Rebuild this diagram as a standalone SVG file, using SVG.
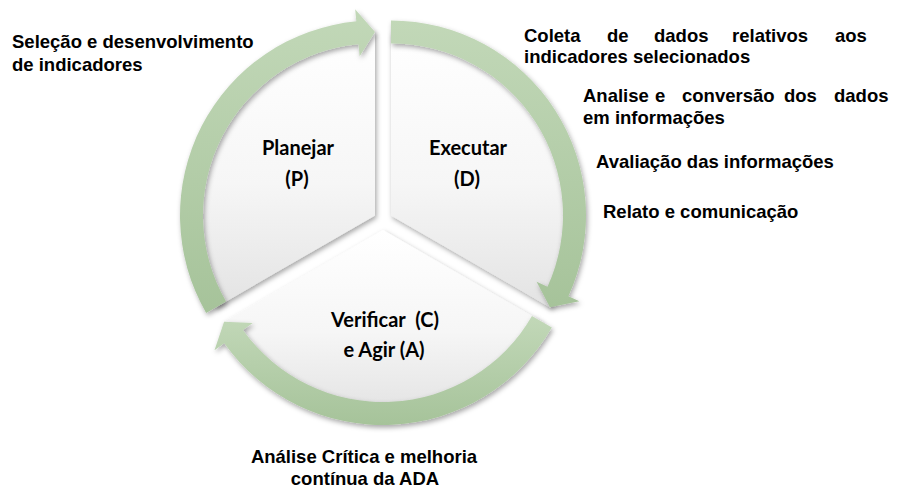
<svg xmlns="http://www.w3.org/2000/svg" width="904" height="502" viewBox="0 0 904 502">
  <defs>
    <linearGradient id="sectorFill" x1="0" y1="0" x2="0" y2="1">
      <stop offset="0" stop-color="#ffffff"/>
      <stop offset="0.55" stop-color="#f6f6f6"/>
      <stop offset="1" stop-color="#e3e3e3"/>
    </linearGradient>
    <linearGradient id="arrowFill" x1="0" y1="0" x2="0" y2="1">
      <stop offset="0" stop-color="#c2d8b8"/>
      <stop offset="1" stop-color="#a6c39a"/>
    </linearGradient>
    <filter id="shadow" x="-10%" y="-10%" width="125%" height="125%">
      <feDropShadow dx="1.5" dy="2.5" stdDeviation="2.5" flood-color="#000" flood-opacity="0.35"/>
    </filter>
    <style>
      .sector { fill: url(#sectorFill); filter: url(#shadow); }
      .arrow { fill: url(#arrowFill); filter: url(#shadow); }
      .inner { font-family: Lato, "Open Sans", sans-serif; font-weight: bold; font-size: 20px; fill: #000; text-anchor: middle; }
      .outer { font-family: "Liberation Sans", Arial, sans-serif; font-weight: bold; font-size: 18.5px; fill: #000; }
    </style>
  </defs>
  <rect width="904" height="502" fill="#ffffff"/>

  <g id="node-planejar">
    <path class="sector" d="M375,215.4 L215.65,307.4 A184,184 0 0 1 375,31.4 Z"/>
    <text class="inner" x="298" y="155">Planejar</text>
    <text class="inner" x="297" y="186">(P)</text>
  </g>

  <g id="node-executar">
    <path class="sector" d="M391,215.4 L391,31.4 A184,184 0 0 1 550.35,307.4 Z"/>
    <text class="inner" x="468" y="155">Executar</text>
    <text class="inner" x="467" y="186">(D)</text>
  </g>

  <g id="node-verificar">
    <path class="sector" d="M383,230 L542.35,322 A184,184 0 0 1 223.65,322 Z"/>
    <text class="inner" x="385" y="327">Verificar&#160; (C)</text>
    <text class="inner" x="384" y="357">e Agir (A)</text>
  </g>

  <g id="connectors">
    <path class="arrow" d="M206.13,312.9 A195,195 0 0 1 356.31,21.3 L355.16,9.35 L375,31.9 L359.66,56.14 L358.51,44.19 A172,172 0 0 0 226.04,301.4 Z"/>
    <path class="arrow" d="M391,20.4 A195,195 0 0 1 568.44,296.26 L579.36,301.24 L549.92,307.15 L536.59,281.75 L547.51,286.73 A172,172 0 0 0 391,43.4 Z"/>
    <path class="arrow" d="M551.87,327.5 A195,195 0 0 1 224.25,343.24 L214.48,350.2 L224.08,321.75 L252.74,322.91 L242.97,329.88 A172,172 0 0 0 531.96,316 Z"/>
  </g>

  <g id="annotations">
    <text class="outer" x="12" y="48">Seleção e desenvolvimento</text>
    <text class="outer" x="12" y="71">de indicadores</text>

    <text class="outer" y="42"><tspan x="524">Coleta</tspan><tspan x="607">de</tspan><tspan x="654">dados</tspan><tspan x="732">relativos</tspan><tspan x="835">aos</tspan></text>
    <text class="outer" x="524" y="63">indicadores selecionados</text>

    <text class="outer" y="102"><tspan x="583">Analise</tspan><tspan x="655">e</tspan><tspan x="682">conversão</tspan><tspan x="784">dos</tspan><tspan x="834">dados</tspan></text>
    <text class="outer" x="583" y="124">em informações</text>

    <text class="outer" x="596" y="168">Avaliação das informações</text>
    <text class="outer" x="603" y="218">Relato e comunicação</text>

    <text class="outer" x="364" y="463" text-anchor="middle">Análise Crítica e melhoria</text>
    <text class="outer" x="365" y="485" text-anchor="middle">contínua da ADA</text>
  </g>
</svg>
